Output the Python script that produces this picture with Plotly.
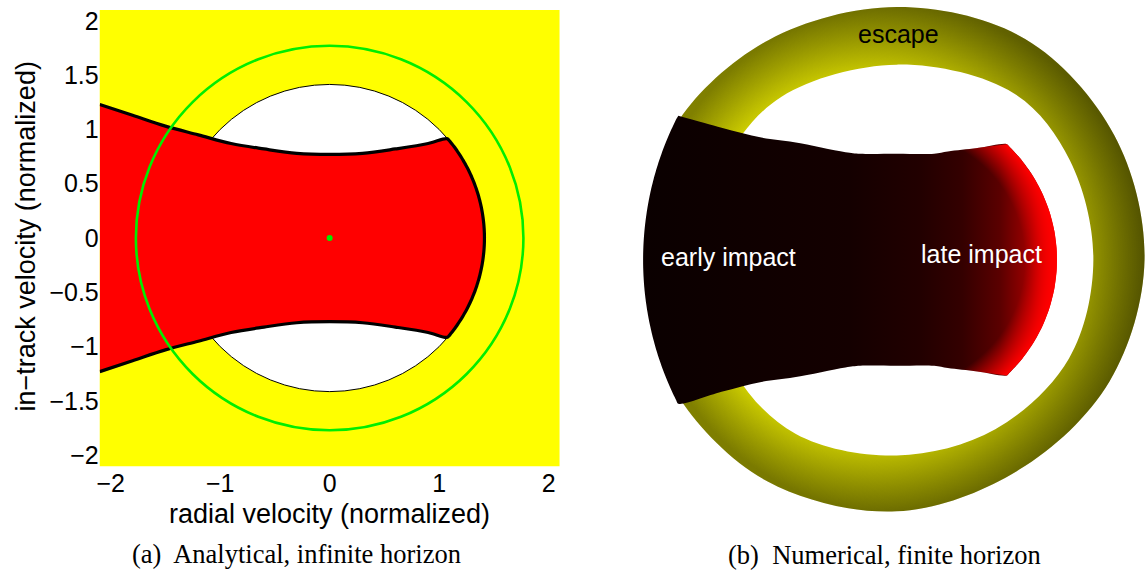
import numpy as np
import plotly.graph_objects as go

W, H = 1145, 576

# ---------------- (a) analytical, infinite horizon ----------------
# upper branch of the impact boundary (lower branch is its mirror image)
bound_x = [-2.1, -1.8, -1.5, -1.2, -0.9, -0.6, -0.3, 0.0, 0.3, 0.6, 0.9, 1.07]
bound_y = [1.23, 1.13, 1.03, 0.95, 0.87, 0.82, 0.78, 0.77, 0.78, 0.82, 0.87, 0.915]
capture_r = 1.414      # white disc
escape_r = 1.77        # green circle
x_ticks = [-2, -1, 0, 1, 2]
y_ticks = [-2, -1.5, -1, -0.5, 0, 0.5, 1, 1.5, 2]

# ---------------- (b) numerical, finite horizon ----------------
# outer edge of the escape ring (angle in degrees, radius)
ring_theta = [0, 30, 60, 90, 120, 147, 165, 180, 195, 213, 240, 270, 300, 330]
ring_outer = [2.18, 2.21, 2.26, 2.24, 2.25, 2.28, 2.22, 2.20, 2.22, 2.27, 2.27, 2.23, 2.15, 2.16]
# edge of the white (undecided) hole
hole_theta = [0, 30, 55, 90, 125, 150, 180, 215, 240, 270, 300, 330]
hole_r = [1.73, 1.76, 1.80, 1.73, 1.765, 1.74, 1.75, 1.74, 1.78, 1.735, 1.735, 1.75]
# upper edge of the impact region
imp_x = [-1.92, -1.54, -1.19, -0.90, -0.45, -0.32, 0.0, 0.33, 0.45, 0.71, 0.97]
imp_y = [1.276, 1.17, 1.083, 1.042, 0.954, 0.94, 0.94, 0.94, 0.96, 0.99, 1.025]
late_r = 1.41          # right (late impact) edge, centred on the origin
early_cx = 0.58        # left (early impact) edge: circle centre on the x axis
early_r = 2.81         # ... and its radius

MINUS = "\u2212"


def fmt(v):
    s = ("%g" % abs(v))
    return (MINUS + s) if v < 0 else s


def polar(theta_deg, r):
    t = np.radians(np.asarray(theta_deg, dtype=float))
    r = np.asarray(r, dtype=float)
    return r * np.cos(t), r * np.sin(t)


def arc(r, a0, a1, n=80, x0=0.0):
    t = np.linspace(a0, a1, n)
    return x0 + r * np.cos(t), r * np.sin(t)


fig = go.Figure()

# ---- panel (a) ----
bx = np.array(bound_x)
by = np.array(bound_y)
a_c = np.arctan2(by[-1], bx[-1])
cx, cy = arc(capture_r, a_c, -a_c)
edge_x = np.concatenate([bx, cx[1:-1], bx[::-1]])
edge_y = np.concatenate([by, cy[1:-1], -by[::-1]])

fig.add_trace(go.Scatter(x=edge_x, y=edge_y, mode="lines", fill="toself",
                         fillcolor="#ff0000", line=dict(width=0, shape="spline"),
                         xaxis="x", yaxis="y", hoverinfo="skip"))
fig.add_trace(go.Scatter(x=edge_x, y=edge_y, mode="lines",
                         line=dict(color="black", width=3.2, shape="spline"),
                         xaxis="x", yaxis="y", hoverinfo="skip"))
fig.add_trace(go.Scatter(x=[0], y=[0], mode="markers",
                         marker=dict(color="#00ee00", size=6),
                         xaxis="x", yaxis="y", hoverinfo="skip"))

shapes = [
    dict(type="rect", xref="x domain", yref="y domain", x0=0, x1=1, y0=0, y1=1,
         fillcolor="#ffff00", line=dict(width=0), layer="below"),
    dict(type="circle", xref="x", yref="y", x0=-capture_r, x1=capture_r,
         y0=-capture_r, y1=capture_r, fillcolor="white",
         line=dict(color="black", width=1), layer="below"),
    dict(type="circle", xref="x", yref="y", x0=-escape_r, x1=escape_r,
         y0=-escape_r, y1=escape_r, line=dict(color="#00ee00", width=2.6),
         layer="above"),
]

# ---- panel (b) ----
ox, oy = polar(ring_theta + [ring_theta[0] + 360], ring_outer + [ring_outer[0]])
hx, hy = polar(hole_theta + [hole_theta[0] + 360], hole_r + [hole_r[0]])

# escape ring: brighter at the inner edge, darker outwards
fig.add_trace(go.Scatter(
    x=ox, y=oy, mode="lines", fill="toself", line=dict(width=0, shape="spline"),
    fillgradient=dict(type="radial", colorscale=[
        [0.0, "#e6e600"], [0.76, "#e6e600"], [0.8, "#d4d400"],
        [0.9, "#aaaa00"], [1.0, "#828200"]]),
    xaxis="x2", yaxis="y2", hoverinfo="skip"))
# and darker towards positive radial velocity
fig.add_trace(go.Scatter(
    x=ox, y=oy, mode="lines", fill="toself", line=dict(width=0, shape="spline"),
    fillgradient=dict(type="horizontal", start=-2.0, stop=2.2, colorscale=[
        [0.0, "rgba(0,0,0,0)"], [1.0, "rgba(0,0,0,0.36)"]]),
    xaxis="x2", yaxis="y2", hoverinfo="skip"))
fig.add_trace(go.Scatter(
    x=hx, y=hy, mode="lines", fill="toself", fillcolor="white",
    line=dict(width=0, shape="spline"), xaxis="x2", yaxis="y2", hoverinfo="skip"))

ix = np.array(imp_x)
iy = np.array(imp_y)
a_l = np.arctan2(iy[-1], ix[-1])
lx, ly = arc(late_r, a_l, -a_l)
a_e = np.arctan2(iy[0], ix[0] - early_cx)
ex, ey = arc(early_r, 2 * np.pi - a_e, a_e, x0=early_cx)
imp_bx = np.concatenate([ix, lx[1:-1], ix[::-1], ex[1:-1]])
imp_by = np.concatenate([iy, ly[1:-1], -iy[::-1], ey[1:-1]])

fig.add_trace(go.Scatter(
    x=imp_bx, y=imp_by, mode="lines", fill="toself", line=dict(width=0, shape="spline"),
    fillgradient=dict(type="horizontal", start=-2.25, stop=1.41, colorscale=[
        [0.0, "#0a0000"], [0.5, "#140000"], [0.67, "#220000"], [0.77, "#340000"],
        [0.86, "#5a0000"], [0.935, "#a00000"], [1.0, "#ff0000"]]),
    xaxis="x2", yaxis="y2", hoverinfo="skip"))

# late-impact rim: red glow that follows the arc of radius late_r.
# Two zero-area spikes square the bounding box so the radial gradient is
# centred on the origin with radius late_r.
keep = ix >= 0.3
kx, ky = ix[keep], iy[keep]
rim_x = np.concatenate([[kx[0], -late_r], kx, lx[1:-1], kx[::-1], [-late_r, kx[0]]])
rim_y = np.concatenate([[ky[0], late_r], ky, ly[1:-1], -ky[::-1], [-late_r, -ky[0]]])
fig.add_trace(go.Scatter(
    x=rim_x, y=rim_y, mode="lines", fill="toself", line=dict(width=0),
    fillgradient=dict(type="radial", colorscale=[
        [0.0, "rgba(255,0,0,0)"], [0.8, "rgba(255,0,0,0)"], [1.0, "rgba(255,0,0,1)"]]),
    xaxis="x2", yaxis="y2", hoverinfo="skip"))

tick_font = dict(family="Liberation Sans, Arial, sans-serif", size=25, color="black")
label_font = dict(family="Liberation Sans, Arial, sans-serif", size=27, color="black")
cap_font = dict(family="Liberation Serif, Times New Roman, serif", size=26.5, color="black")

annotations = [
    dict(text="radial velocity (normalized)", xref="paper", yref="paper",
         x=327 / W, y=1 - 516 / H, xanchor="center", yanchor="middle",
         showarrow=False, font=label_font),
    dict(text="in" + MINUS + "track velocity (normalized)", xref="paper", yref="paper",
         x=23 / W, y=1 - 236 / H, xanchor="center", yanchor="middle", textangle=-90,
         showarrow=False, font=label_font),
    dict(text="(a)  Analytical, infinite horizon", xref="paper", yref="paper",
         x=294.5 / W, y=1 - 557 / H, xanchor="center", yanchor="middle",
         showarrow=False, font=cap_font),
    dict(text="(b)  Numerical, finite horizon", xref="paper", yref="paper",
         x=883.5 / W, y=1 - 558 / H, xanchor="center", yanchor="middle",
         showarrow=False, font=cap_font),
    dict(text="escape", xref="x2", yref="y2", x=0.013, y=2.0,
         xanchor="center", yanchor="middle", showarrow=False,
         font=dict(family="Liberation Sans, Arial, sans-serif", size=25, color="black")),
    dict(text="early impact", xref="x2", yref="y2", x=-1.48, y=0.025,
         xanchor="center", yanchor="middle", showarrow=False,
         font=dict(family="Liberation Sans, Arial, sans-serif", size=25, color="white")),
    dict(text="late impact", xref="x2", yref="y2", x=0.75, y=0.05,
         xanchor="center", yanchor="middle", showarrow=False,
         font=dict(family="Liberation Sans, Arial, sans-serif", size=25, color="white")),
]

fig.update_layout(
    width=W, height=H, margin=dict(l=0, r=0, t=0, b=0),
    paper_bgcolor="white", plot_bgcolor="rgba(0,0,0,0)", showlegend=False,
    shapes=shapes, annotations=annotations,
    xaxis=dict(domain=[97 / W, 558 / W], range=[-2.1, 2.1], anchor="y",
               tickvals=x_ticks, ticktext=[fmt(v) for v in x_ticks],
               showgrid=False, zeroline=False, showline=False, ticks="",
               tickfont=tick_font, fixedrange=True),
    yaxis=dict(domain=[1 - 468 / H, 1 - 7 / H], range=[-2.1, 2.1], anchor="x",
               tickvals=y_ticks, ticktext=[fmt(v) for v in y_ticks],
               showgrid=False, zeroline=False, showline=False, ticks="",
               tickfont=tick_font, fixedrange=True),
    xaxis2=dict(domain=[620 / W, 1.0], range=[(620 - 896) / 114, (1145 - 896) / 114],
                anchor="y2", visible=False, fixedrange=True),
    yaxis2=dict(domain=[1 - 530 / H, 1.0], range=[-(530 - 259.5) / 114, 259.5 / 114],
                anchor="x2", visible=False, fixedrange=True),
)

fig.write_html("out.html")
